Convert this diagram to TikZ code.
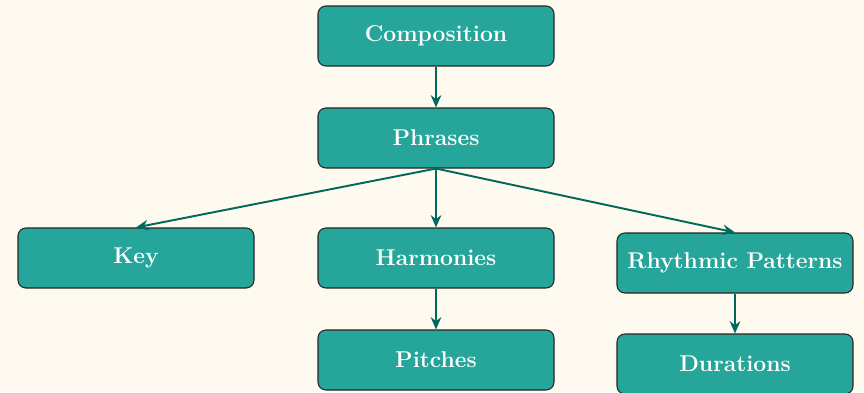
\documentclass[tikz,border=0pt]{standalone}
\usepackage{xcolor}
\usepackage{tikz}
\usetikzlibrary{positioning,arrows.meta}
\definecolor{paperbg}{RGB}{255,250,240}
\definecolor{boxteal}{RGB}{38,166,154}
\definecolor{linkteal}{RGB}{0,105,92}
\tikzset{
  musicbox/.style={rectangle, rounded corners=4.5pt, fill=boxteal, draw=black!85,
    line width=0.6pt, minimum width=4.72cm, minimum height=1.2cm, inner sep=0pt,
    text=white, font=\fontsize{13}{15}\selectfont\bfseries},
  link/.style={draw=linkteal, line width=1.1pt, -{Stealth[length=7pt,width=6pt]}}
}

\begin{document}
\begin{tikzpicture}
  \fill[paperbg] (0,0) rectangle (17.28,7.84);
  \useasboundingbox (0,0) rectangle (17.28,7.84);
  % top two levels
  \node[musicbox] (comp) at (8.72,7.12) {Composition};
  \node[musicbox] (phr)  at (8.72,5.08) {Phrases};
  % third level
  \node[musicbox] (key)  at (2.72,2.68)  {Key};
  \node[musicbox] (harm) at (8.72,2.68)  {Harmonies};
  \node[musicbox] (rhy)  at (14.70,2.58) {Rhythmic Patterns};
  % leaves
  \node[musicbox] (pit)  at (8.72,0.64)  {Pitches};
  \node[musicbox] (dur)  at (14.70,0.56) {Durations};
  \draw[link] (comp.south) -- (phr.north);
  \draw[link] (phr.south) -- (key.north);
  \draw[link] (phr.south) -- (harm.north);
  \draw[link] (phr.south) -- (rhy.north);
  \draw[link] (harm.south) -- (pit.north);
  \draw[link] (rhy.south) -- (dur.north);
\end{tikzpicture}
\end{document}
